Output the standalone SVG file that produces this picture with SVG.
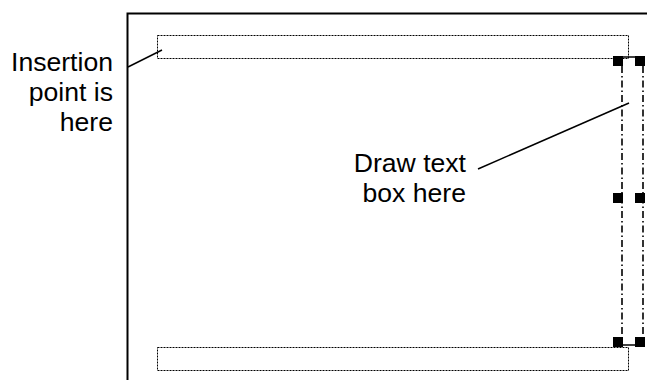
<svg xmlns="http://www.w3.org/2000/svg" width="647" height="380" viewBox="0 0 647 380">
<style>
.lbl{font-family:"Liberation Sans",Arial,sans-serif;font-size:26.6px;fill:#000}
.dot{fill:none;stroke:#000;stroke-width:1;stroke-dasharray:2,1}
.dd{fill:none;stroke:#000;stroke-width:1.6;stroke-dasharray:7,3,1.5,3}
.ln{fill:none;stroke:#000;stroke-width:1.5}
.h{fill:#000}
</style>
<rect width="647" height="380" fill="#fff"/>
<g id="frame">
<path d="M127.5 380 V13.5 H647" fill="none" stroke="#000" stroke-width="2"/>
</g>
<g id="top-box">
<rect class="dot" x="157.5" y="35.5" width="471" height="23"/>
</g>
<g id="bottom-box">
<rect class="dot" x="157.5" y="347.5" width="471" height="23"/>
</g>
<g id="text-box">
<line class="dd" x1="622" y1="66" x2="622" y2="338"/>
<line class="dd" x1="643" y1="66" x2="643" y2="338"/>
<line class="ln" x1="623" y1="57" x2="636" y2="57"/>
<line class="ln" x1="623" y1="345" x2="636" y2="345"/>
<rect class="h" x="613" y="56" width="10" height="10"/>
<rect class="h" x="635" y="56" width="10" height="10"/>
<rect class="h" x="613" y="193" width="10" height="10"/>
<rect class="h" x="635" y="193" width="10" height="10"/>
<rect class="h" x="613" y="337" width="10" height="10"/>
<rect class="h" x="635" y="337" width="10" height="10"/>
</g>
<g id="label-insertion">
<text class="lbl" text-anchor="end" x="113" y="71">Insertion</text>
<text class="lbl" text-anchor="end" x="113" y="101">point is</text>
<text class="lbl" text-anchor="end" x="113" y="131">here</text>
</g>
<g id="label-draw">
<text class="lbl" text-anchor="end" x="466" y="172">Draw text</text>
<text class="lbl" text-anchor="end" x="466" y="202">box here</text>
</g>
<g id="connectors">
<line class="ln" x1="128" y1="67" x2="162" y2="50"/>
<line class="ln" x1="478" y1="169" x2="629" y2="103"/>
</g>
</svg>
